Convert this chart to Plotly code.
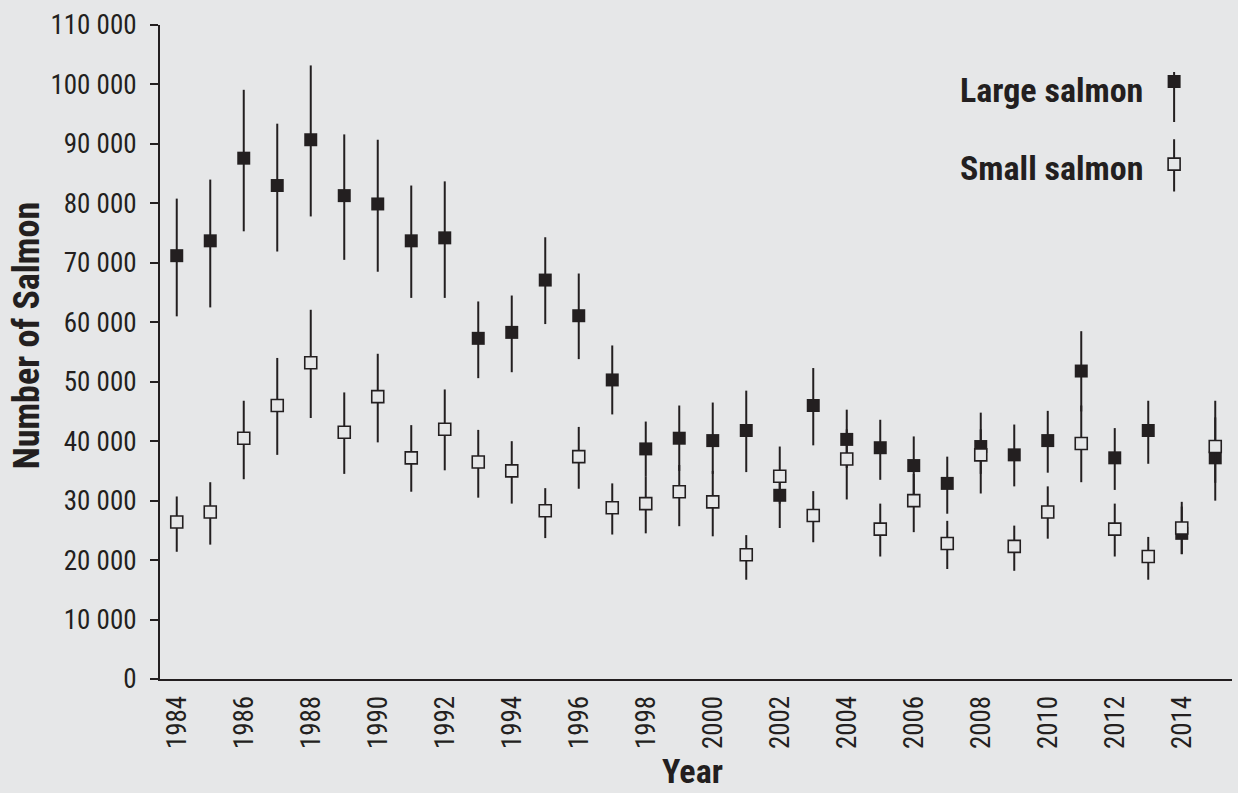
import plotly.graph_objects as go

# Annual estimates of returning salmon (central value with lower / upper bounds)
years = list(range(1984, 2016))

large_mid = [71200, 73700, 87600, 83000, 90700, 81300, 79900, 73700, 74200, 57300,
             58300, 67100, 61100, 50300, 38700, 40500, 40100, 41800, 30900, 46000,
             40300, 38900, 35900, 32900, 39100, 37700, 40100, 51800, 37200, 41800,
             24500, 37200]
large_hi = [80800, 84000, 99100, 93400, 103200, 91600, 90700, 83000, 83700, 63500,
            64500, 74300, 68200, 56100, 43300, 46000, 46500, 48500, 35000, 52300,
            45300, 43600, 40800, 37400, 44800, 42800, 45100, 58500, 42200, 46800,
            29000, 46800]
large_lo = [61000, 62500, 75300, 71900, 77800, 70500, 68500, 64100, 64100, 50600,
            51600, 59700, 53800, 44500, 34000, 35000, 34500, 34800, 25400, 39300,
            35500, 33500, 31000, 27800, 34500, 32400, 34700, 45000, 31800, 36200,
            21000, 30000]

small_mid = [26400, 28100, 40500, 46000, 53200, 41500, 47500, 37200, 42000, 36500,
             35000, 28300, 37400, 28800, 29500, 31500, 29800, 20900, 34100, 27500,
             37000, 25200, 30000, 22800, 37700, 22300, 28100, 39600, 25200, 20600,
             25400, 39100]
small_hi = [30700, 33100, 46800, 54000, 62100, 48200, 54700, 42700, 48700, 41900,
            40000, 32100, 42400, 32900, 34000, 36000, 35000, 24200, 39100, 31600,
            42000, 29500, 34500, 26600, 42000, 25800, 32400, 46000, 29500, 23900,
            29800, 44000]
small_lo = [21400, 22600, 33600, 37700, 43900, 34500, 39800, 31500, 35100, 30500,
            29500, 23700, 32000, 24300, 24500, 25700, 24000, 16700, 29500, 23000,
            30200, 20600, 24700, 18500, 31200, 18200, 23600, 33100, 20600, 16700,
            21000, 33000]

series_names = ["Large salmon", "Small salmon"]
# legend key values (centre, upper, lower) drawn beside the legend text
legend_mid = [100500, 86600]
legend_hi = [102100, 90800]
legend_lo = [93700, 82000]
legend_text_y = [99000, 86000]

y_ticks = list(range(0, 110001, 10000))
x_label_years = list(range(1984, 2015, 2))
x_boundaries = [y - 0.5 for y in range(1984, 2017)]

INK = "#231F20"
BG = "#E6E7E8"
FAMILY = ("Roboto Condensed, DejaVu Sans Condensed, Liberation Sans Narrow, "
          "Arial Narrow, sans-serif")
TICK_FONT = dict(family=FAMILY, size=27, color=INK, weight=400)
BOLD_FONT = dict(family=FAMILY, size=34, color=INK, weight="bold")
YTITLE_FONT = dict(family=FAMILY, size=36, color=INK, weight="bold")

marker_styles = [
    dict(symbol="square", size=13, color=INK, line=dict(color=INK, width=0)),
    dict(symbol="square", size=12, color=BG, line=dict(color=INK, width=1.6)),
]


def bars(mid, hi, lo):
    return dict(type="data", symmetric=False,
                array=[h - m for h, m in zip(hi, mid)],
                arrayminus=[m - l for m, l in zip(mid, lo)],
                color=INK, thickness=2, width=0)


fig = go.Figure()

for name, mid, hi, lo, style in [
    (series_names[0], large_mid, large_hi, large_lo, marker_styles[0]),
    (series_names[1], small_mid, small_hi, small_lo, marker_styles[1]),
]:
    fig.add_trace(go.Scatter(x=years, y=mid, mode="markers", name=name,
                             marker=style, error_y=bars(mid, hi, lo),
                             showlegend=False, cliponaxis=False))

# legend keys on their own narrow x axis, sharing the count axis
for i, name in enumerate(series_names):
    fig.add_trace(go.Scatter(x=[0.5], y=[legend_mid[i]], mode="markers", name=name,
                             marker=marker_styles[i],
                             error_y=bars([legend_mid[i]], [legend_hi[i]], [legend_lo[i]]),
                             xaxis="x4", yaxis="y", showlegend=False,
                             hoverinfo="skip", cliponaxis=False))
    fig.add_annotation(text=name, xref="paper", yref="y",
                       x=0.919, y=legend_text_y[i],
                       xanchor="right", yanchor="middle", showarrow=False,
                       font=BOLD_FONT)

# axis titles
fig.add_annotation(text="Number of Salmon", textangle=-90,
                   xref="paper", yref="paper", x=-0.124, y=0.5256,
                   xanchor="center", yanchor="middle", showarrow=False,
                   font=YTITLE_FONT)
fig.add_annotation(text="Year", xref="paper", yref="paper", x=0.497, y=-0.1734,
                   xanchor="center", yanchor="bottom", showarrow=False,
                   borderpad=0, font=BOLD_FONT)

fig.update_layout(
    width=1238, height=793,
    margin=dict(l=160, r=6, t=25, b=114),
    paper_bgcolor=BG, plot_bgcolor="rgba(0,0,0,0)",
    separators=". ",
    showlegend=False,
    xaxis=dict(range=[1983.5, 2015.5], tickmode="array", tickvals=x_label_years,
               ticktext=[str(y) for y in x_label_years], tickangle=-90,
               ticks="outside", ticklen=4, tickcolor="rgba(0,0,0,0)",
               tickfont=TICK_FONT, showgrid=False, zeroline=False,
               showline=True, linecolor=INK, linewidth=2, automargin=False),
    xaxis2=dict(range=[1983.5, 2015.5], overlaying="x", anchor="y", matches="x",
                tickmode="array", tickvals=x_boundaries, showticklabels=False,
                ticks="outside", ticklen=8, tickwidth=2, tickcolor=INK,
                showgrid=False, zeroline=False, showline=False),
    xaxis3=dict(range=[1983.5, 2015.5], overlaying="x", anchor="y", matches="x",
                tickmode="array", tickvals=x_boundaries, showticklabels=False,
                ticks="inside", ticklen=8, tickwidth=2, tickcolor=INK,
                showgrid=False, zeroline=False, showline=False),
    xaxis4=dict(domain=[0.936, 0.956], range=[0, 1], anchor="y", visible=False,
                fixedrange=True),
    yaxis=dict(range=[0, 110000], tickmode="array", tickvals=y_ticks,
               tickformat=",d", ticks="outside", ticklen=8, tickwidth=2,
               tickcolor=INK, ticklabelstandoff=8, tickfont=TICK_FONT,
               showgrid=False, zeroline=False, automargin=False,
               showline=True, linecolor=INK, linewidth=2),
    yaxis2=dict(range=[0, 110000], overlaying="y", anchor="x", matches="y",
                tickmode="array", tickvals=y_ticks, showticklabels=False,
                ticks="inside", ticklen=7, tickwidth=2, tickcolor=INK,
                showgrid=False, zeroline=False, showline=False),
)

fig.write_html("out.html")
